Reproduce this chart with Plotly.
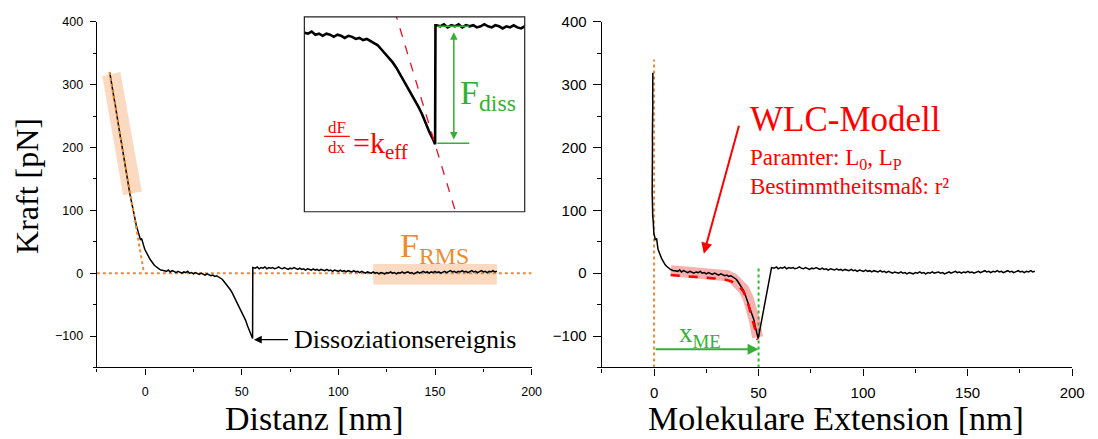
import plotly.graph_objects as go

# ---------------- data ----------------
# left panel: force vs. piezo distance
dist_steep = [-18.3, -17.8, -17.2, -16.7, -16.1, -15.6, -15.0, -14.5, -13.9, -13.4,
              -12.8, -12.3, -11.7, -11.2, -10.6, -10.1, -9.5, -9.0, -8.4, -7.9,
              -7.3, -6.8, -6.2, -5.7, -5.1, -4.6, -4.0, -3.5, -2.9, -2.4,
              -1.8, -1.3, -0.7, -0.2, 0.4, 1.0, 1.6, 2.2, 2.8, 3.4,
              4.0, 4.7, 5.4, 6.1, 6.8, 7.5, 8.2, 9.0]
force_steep = [319, 308, 299, 290, 278, 270, 257, 249, 237, 229,
               216, 208, 196, 187, 176, 168, 155, 147, 136, 126,
               117, 108, 100, 91, 84, 76, 70, 62, 58, 53,
               55, 47, 43, 38, 34, 30, 27, 24, 21, 18,
               16, 13, 11, 9, 7, 6, 5, 4]
dist_pre = list(range(10, 56)) + [55.6]
force_pre = [4, 3, 5, 2, 4, 3, 1, 3, 2, 0,
             2, 1, 3, 0, 1, -1, 1, 0, -2, 0,
             -1, -3, -1, -2, -4, -3, -5, -4, -6, -8,
             -10, -14, -18, -21, -26, -31, -37, -43, -49, -55,
             -61, -68, -75, -84, -92, -99, -104]
dist_post = [55.7] + list(range(56, 183))
force_post = [9,
              9, 8, 10, 7, 9, 8, 10, 7, 9, 8, 9, 7, 8, 10, 8, 7, 9, 8, 6, 8,
              7, 9, 7, 6, 8, 6, 7, 5, 7, 6, 5, 7, 5, 6, 4, 6, 5, 4, 6, 4,
              5, 3, 5, 4, 3, 5, 3, 4, 2, 4, 3, 2, 4, 2, 3, 1, 3, 2, 0, 2,
              1, 0, 2, 0, 1, -1, 1, 0, -1, 1, 0, 2, 0, 1, -1, 1, 0, 2, 0, 1,
              2, 0, 1, -1, 1, 2, 0, 1, 3, 1, 2, 0, 2, 1, 3, 1, 2, 0, 2, 3,
              1, 2, 4, 2, 3, 1, 3, 2, 4, 2, 3, 1, 3, 4, 2, 3, 1, 3, 4, 2,
              3, 1, 3, 2, 4, 2, 3]
distance = dist_steep + dist_pre + dist_post
force = force_steep + force_pre + force_post

# cantilever spring constant used to convert distance -> molecular extension
k_cantilever = 18.0  # pN/nm
extension = [d + f / k_cantilever for d, f in zip(distance, force)]

# linear fit of the contact region (slope) and baseline
contact_fit_d = [-18.5, -0.6]
contact_fit_F = [320, 0]
baseline_d = [-25, 200]
baseline_F = [0, 0]

# highlighted regions
steep_band_d = [-22.2, -12.8, -1.7, -11.4, -22.2]
steep_band_F = [313.8, 320, 130, 124, 313.8]
rms_range_d = [118, 182]
rms_range_F = [-18, 14.5]

# WLC fit (right panel)
wlc_ext = [8, 12, 16, 20, 24, 28, 32, 35, 37, 39, 41, 42.5, 44, 45.5, 46.5, 47.5, 48.5, 49.5]
wlc_F = [-3, -4, -4, -5, -6, -7, -9, -11, -13, -17, -22, -28, -38, -55, -66, -78, -91, -106]
band_ext = [8, 14, 20, 26, 31, 35, 38, 41, 43, 45, 46.5, 48, 49.5]
band_F = [4, 3, 2, 1, -1, -4, -9, -17, -26, -40, -55, -75, -102]
x_me = 50
rupture_d = 55.6
rupture_F = -104
after_F = 8

# inset slope (effective spring constant)
k_eff = 11.5
keff_d = [44.6, 61.2]
keff_F = [rupture_F - k_eff * (d - rupture_d) for d in keff_d]

ORANGE = "#F08A2C"
BAND = "rgba(245,150,80,0.35)"
GREEN = "#35B035"
RED = "#FF0000"
SERIF = "Liberation Serif, Times New Roman, serif"
SANS = "Liberation Sans, Arial, sans-serif"

fig = go.Figure()

# ---- left panel ----
fig.add_trace(go.Scatter(x=steep_band_d, y=steep_band_F, fill="toself", fillcolor=BAND,
                         line=dict(width=0), mode="lines", xaxis="x", yaxis="y"))
fig.add_trace(go.Scatter(x=baseline_d, y=baseline_F, mode="lines",
                         line=dict(color=ORANGE, width=2, dash="dot"), xaxis="x", yaxis="y"))
fig.add_trace(go.Scatter(x=distance, y=force, mode="lines",
                         line=dict(color="black", width=1.5), xaxis="x", yaxis="y"))
fig.add_trace(go.Scatter(x=contact_fit_d, y=contact_fit_F, mode="lines",
                         line=dict(color=ORANGE, width=2, dash="dot"), xaxis="x", yaxis="y"))

# ---- inset ----
fig.add_trace(go.Scatter(x=distance, y=force, mode="lines",
                         line=dict(color="black", width=2.6), xaxis="x3", yaxis="y3"))
fig.add_trace(go.Scatter(x=keff_d, y=keff_F, mode="lines",
                         line=dict(color="#E8102A", width=1.3, dash="dash"), xaxis="x3", yaxis="y3"))
fig.add_trace(go.Scatter(x=[56.2, 64.9, None, 56.2, 64.9],
                         y=[after_F, after_F, None, rupture_F + 1, rupture_F + 1], mode="lines",
                         line=dict(color=GREEN, width=1.6), xaxis="x3", yaxis="y3"))

# ---- right panel ----
fig.add_trace(go.Scatter(x=[0, 0], y=[-150, 340], mode="lines",
                         line=dict(color=ORANGE, width=2, dash="dot"), xaxis="x2", yaxis="y2"))
fig.add_trace(go.Scatter(x=[x_me, x_me], y=[-150, 12], mode="lines",
                         line=dict(color="#22C022", width=2, dash="dot"), xaxis="x2", yaxis="y2"))
fig.add_trace(go.Scatter(x=band_ext, y=band_F, mode="lines",
                         line=dict(color="rgba(235,80,80,0.45)", width=11), xaxis="x2", yaxis="y2"))
fig.add_trace(go.Scatter(x=extension, y=force, mode="lines",
                         line=dict(color="black", width=1.5), xaxis="x2", yaxis="y2"))
fig.add_trace(go.Scatter(x=wlc_ext, y=wlc_F, mode="lines",
                         line=dict(color=RED, width=2.5, dash="dash"), xaxis="x2", yaxis="y2"))

W, H = 1098, 439
def px(v):
    return v / W
def py(v):
    return 1 - v / H

ydom = [py(366), py(13)]
axis_common = dict(showline=True, linecolor="black", linewidth=1.3, showgrid=False,
                   zeroline=False, ticks="outside", tickcolor="black", mirror=False)

fig.update_layout(
    width=W, height=H, margin=dict(l=0, r=0, t=0, b=0),
    paper_bgcolor="white", plot_bgcolor="white", showlegend=False,
    xaxis=dict(domain=[px(98), px(538)], range=[-25, 200], dtick=50, tick0=0, anchor="y",
               ticklen=6, tickwidth=1.2, tickfont=dict(family=SANS, size=12.5, color="black"),
               minor=dict(dtick=25, ticklen=3, tickcolor="black", ticks="outside"),
               ticklabelstandoff=6, **axis_common),
    yaxis=dict(domain=ydom, range=[-150, 400], dtick=100, tick0=0, anchor="x",
               ticklen=6, tickwidth=1.2, tickfont=dict(family=SANS, size=12.5, color="black"),
               minor=dict(dtick=50, ticklen=3, tickcolor="black", ticks="outside"),
               ticklabelstandoff=4, **axis_common),
    xaxis2=dict(domain=[px(609), px(1085)], range=[-25, 200], dtick=50, tick0=0, anchor="y2",
                ticklen=7, tickwidth=1.2, tickfont=dict(family=SANS, size=15, color="black"),
                minor=dict(dtick=25, ticklen=4, tickcolor="black", ticks="outside"),
                ticklabelstandoff=4, **axis_common),
    yaxis2=dict(domain=ydom, range=[-150, 400], dtick=100, tick0=0, anchor="x2",
                ticklen=8, tickwidth=1.2, tickfont=dict(family=SANS, size=15, color="black"),
                minor=dict(dtick=50, ticklen=4, tickcolor="black", ticks="outside"),
                ticklabelstandoff=3, **axis_common),
    xaxis3=dict(domain=[px(308), px(531)], range=[20, 80], anchor="y3", visible=False),
    yaxis3=dict(domain=[py(207), py(8)], range=[-168, 17], anchor="x3", visible=False),
)

shapes = [
    dict(type="rect", xref="x", yref="y", x0=rms_range_d[0], x1=rms_range_d[1],
         y0=rms_range_F[0], y1=rms_range_F[1], fillcolor=BAND, line=dict(width=0), layer="below"),
    dict(type="rect", xref="paper", yref="paper", x0=px(308), x1=px(531), y0=py(207), y1=py(8),
         line=dict(color="#222222", width=1.2), fillcolor="rgba(0,0,0,0)"),
    dict(type="line", xref="paper", yref="paper", x0=px(328), x1=px(354), y0=py(130), y1=py(130),
         line=dict(color=RED, width=1.2)),
]
fig.update_layout(shapes=shapes)

ann = []
def text(x, y, s, size, color="black", xanchor="center", angle=0):
    ann.append(dict(x=x, y=y, xref="paper", yref="paper", text=s, showarrow=False,
                    font=dict(family=SERIF, size=size, color=color),
                    xanchor=xanchor, yanchor="middle", textangle=angle))

text(px(28), py(181), "Kraft [pN]", 32, angle=-90)
text(px(318), py(418), "Distanz [nm]", 34)
text(px(846), py(418), "Molekulare Extension [nm]", 34)
text(px(440), py(244), "F<sub>RMS</sub>", 34, ORANGE)
text(px(296), py(337), "Dissoziationsereignis", 26, xanchor="left")
text(px(757), py(113), "WLC-Modell", 35, RED, xanchor="left")
text(px(757), py(153), "Paramter: L<sub>0</sub>, L<sub>P</sub>", 23, RED, xanchor="left")
text(px(757), py(181), "Bestimmtheitsmaß: r²", 23, RED, xanchor="left")
text(px(708), py(333), "x<sub>ME</sub>", 27, GREEN)
text(px(494), py(88), "F<sub>diss</sub>", 34, GREEN)
text(px(341), py(121), "dF", 17, RED)
text(px(341), py(141), "dx", 17, RED)
text(px(355), py(139), "=k<sub>eff</sub>", 30, RED, xanchor="left")

# arrows
ann.append(dict(x=56.3, y=-105.8, xref="x", yref="y", ax=74.7, ay=-105.8, axref="x", ayref="y",
                text="", showarrow=True, arrowhead=2, arrowsize=1.2, arrowwidth=1.3,
                arrowcolor="black"))
ann.append(dict(x=23.8, y=31, xref="x2", yref="y2", ax=40.8, ay=237, axref="x2", ayref="y2",
                text="", showarrow=True, arrowhead=2, arrowsize=1.1, arrowwidth=2,
                arrowcolor=RED))
ann.append(dict(x=x_me, y=-121, xref="x2", yref="y2", ax=0, ay=-121, axref="x2", ayref="y2",
                text="", showarrow=True, arrowhead=2, arrowsize=1.1, arrowwidth=2,
                arrowcolor=GREEN))
ann.append(dict(x=60.7, y=-99.4, xref="x3", yref="y3", ax=60.7, ay=3.8, axref="x3", ayref="y3",
                text="", showarrow=True, arrowhead=2, startarrowhead=2, arrowside="end+start",
                arrowsize=1, arrowwidth=1.5, arrowcolor=GREEN))
fig.update_layout(annotations=ann)

fig.write_html("out.html")
